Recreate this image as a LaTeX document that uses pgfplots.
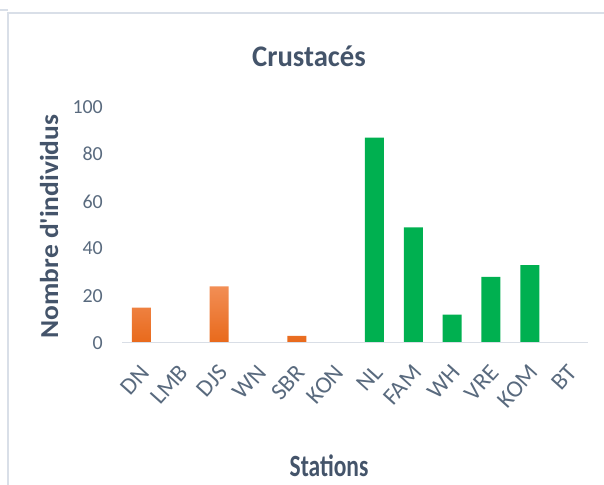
\documentclass[border=0pt]{standalone}
\usepackage{pgfplots}
\pgfplotsset{compat=1.18}
\usepackage{fontspec}
\setmainfont{Carlito}
\newfontfamily\titlefont{Carlito}[FakeStretch=0.96]
\newfontfamily\stationsfont{Carlito}[FakeStretch=0.76]
\newfontfamily\ylabfont{Carlito}[FakeStretch=1.06]
\definecolor{txt}{HTML}{44546A}
\definecolor{tick}{HTML}{596A7E}
\definecolor{orangeT}{HTML}{F28E55}
\definecolor{orangeB}{HTML}{E8691B}
\definecolor{grn}{HTML}{00B050}
\definecolor{frame}{HTML}{D9DFE8}
\definecolor{base}{HTML}{D9DEE6}
\begin{document}
\begin{tikzpicture}[x=1bp,y=1bp]
\useasboundingbox (0,0) rectangle (604,485);
\draw[frame, line width=1.5bp] (8,-5) -- (8,472) -- (610,472);
\draw[frame, line width=1.5bp] (0,475) -- (8,475);
\begin{axis}[
  at={(122bp,142bp)}, anchor=south west,
  scale only axis, width=466bp, height=236bp,
  xmin=-0.5, xmax=11.5, ymin=0, ymax=100,
  ybar, bar width=19bp,
  axis on top,
  axis x line=bottom, axis y line=left,
  x axis line style={draw=base, line width=1bp, -},
  y axis line style={draw=none},
  major tick length=0pt,
  xtick={0,...,11},
  xticklabels={DN,LMB,DJS,WN,SBR,KON,NL,FAM,WH,VRE,KOM,BT},
  ytick={0,20,40,60,80,100},
  tick label style={text=tick, font=\fontsize{20}{24}\selectfont},
  xticklabel style={rotate=48, anchor=north east, inner sep=0pt, xshift=-1.4bp, yshift=1.4bp, font=\fontsize{24}{28}\selectfont},
  xticklabel shift=20bp,
  yticklabel style={anchor=east, inner sep=0pt, xshift=-19bp},
  /pgf/number format/assume math mode=true,
  clip=false,
]
\addplot[bar shift=0pt, draw=none, top color=orangeT, bottom color=orangeB]
  coordinates {(0,15) (1,0) (2,24) (3,0) (4,3) (5,0)};
\addplot[bar shift=0pt, draw=none, fill=grn]
  coordinates {(6,87) (7,49) (8,12) (9,28) (10,33) (11,0)};
\end{axis}
\node[anchor=base, text=txt, font=\titlefont\bfseries\fontsize{30}{36}\selectfont] at (309,418) {Crustacés};
\node[anchor=base, text=txt, font=\stationsfont\bfseries\fontsize{31}{36}\selectfont] at (329,8) {Stations};
\node[anchor=base, rotate=90, text=txt, font=\ylabfont\bfseries\fontsize{26}{32}\selectfont] at (58,258.5) {Nombre d'individus};
\end{tikzpicture}
\end{document}
